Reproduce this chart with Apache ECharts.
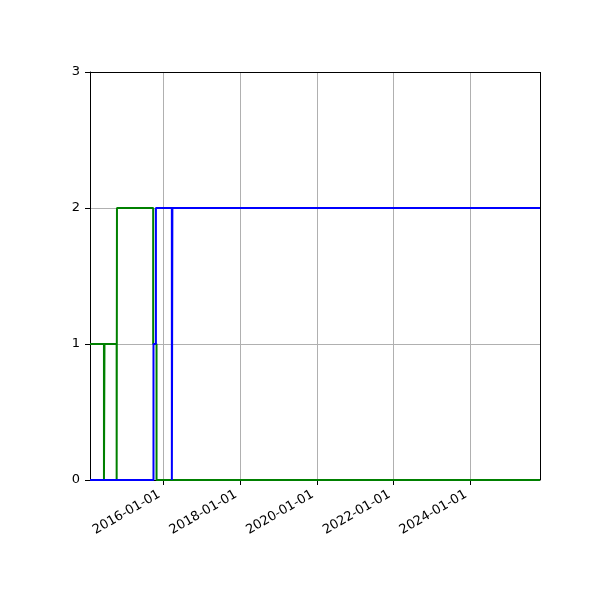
<!DOCTYPE html>
<html>
<head>
<meta charset="utf-8">
<script src="https://cdn.jsdelivr.net/npm/echarts@6/dist/echarts.min.js"></script>
<style>html,body{margin:0;padding:0;background:#fff}#c{width:600px;height:600px}</style>
</head>
<body>
<div id="c"></div>
<script>
// Axis range and ticks
const xMin = '2014-01-29';
const xMax = '2025-10-26';
const xTicks = ['2016-01-01', '2018-01-01', '2020-01-01', '2022-01-01', '2024-01-01'];
const yTicks = [0, 1, 2, 3];

// Green series (step, value holds from each date until the next)
const greenDates  = ['2014-01-29', '2014-06-11', '2014-06-16', '2014-10-10', '2014-10-13', '2015-09-23', '2015-10-25', '2025-10-26'];
const greenValues = [1, 0, 1, 0, 2, 1, 0, 0];

// Blue series
const blueDates  = ['2014-01-29', '2015-09-26', '2015-10-19', '2016-03-19', '2016-03-24', '2025-10-26'];
const blueValues = [0, 1, 2, 0, 2, 2];

const t = s => new Date(s + 'T00:00:00Z').getTime();
const zip = (d, v) => d.map((x, i) => [t(x), v[i]]);
const pad = n => String(n).padStart(2, '0');
const fmt = v => { const d = new Date(v); return d.getUTCFullYear() + '-' + pad(d.getUTCMonth() + 1) + '-' + pad(d.getUTCDate()); };

const font = 'DejaVu Sans';
const chart = echarts.init(document.getElementById('c'), null, {renderer: 'canvas'});
chart.setOption({
  animation: false,
  backgroundColor: '#ffffff',
  grid: {left: 90, right: 60, top: 72, bottom: 120, containLabel: false, show: false},
  xAxis: {
    type: 'value',
    min: t(xMin), max: t(xMax),
    axisLine: {show: true, onZero: false, lineStyle: {color: '#000', width: 1}},
    axisTick: {show: true, length: 5, lineStyle: {color: '#000', width: 1}, customValues: xTicks.map(t)},
    axisLabel: {show: true, rotate: 30, margin: 11, padding: [0, 5, 0, 0], color: '#000', fontFamily: font, fontSize: 13,
      customValues: xTicks.map(t), formatter: v => fmt(v)},
    splitLine: {show: true, lineStyle: {color: '#b0b0b0', width: 1}}
  },
  yAxis: {
    type: 'value', min: 0, max: 3, interval: 1,
    axisLine: {show: true, onZero: false, lineStyle: {color: '#000', width: 1}},
    axisTick: {show: true, length: 5, lineStyle: {color: '#000', width: 1}},
    axisLabel: {show: true, margin: 10, color: '#000', fontFamily: font, fontSize: 13,
      formatter: v => yTicks.includes(v) ? String(v) : ''},
    splitLine: {show: true, lineStyle: {color: '#b0b0b0', width: 1}}
  },
  series: [
    {type: 'line', name: 'green', step: 'end', showSymbol: false, data: zip(greenDates, greenValues),
      lineStyle: {color: '#008000', width: 2}, itemStyle: {color: '#008000'}, z: 3},
    {type: 'line', name: 'blue', step: 'end', showSymbol: false, data: zip(blueDates, blueValues),
      lineStyle: {color: '#0000ff', width: 2}, itemStyle: {color: '#0000ff'}, z: 4,
      markLine: {silent: true, symbol: 'none', label: {show: false},
        lineStyle: {color: '#000', type: 'solid', width: 1},
        data: [[{coord: [t(xMin), 3]}, {coord: [t(xMax), 3]}], [{coord: [t(xMax), 0]}, {coord: [t(xMax), 3]}]]}}
  ]
});
</script>
</body>
</html>
